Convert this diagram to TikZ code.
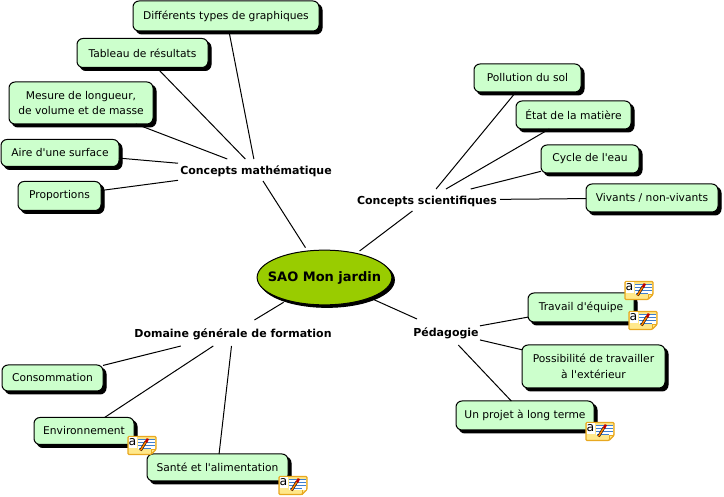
\documentclass[tikz,border=0pt]{standalone}
\usepackage{fontspec}
\setmainfont{DejaVu Sans}
\usetikzlibrary{shadows,shapes.geometric}
\definecolor{boxgreen}{HTML}{CCFFCC}
\definecolor{rootgreen}{HTML}{99CC00}
\definecolor{noteyellow}{HTML}{FFE88A}
\definecolor{noteedge}{HTML}{E8A820}
\definecolor{noteblue}{HTML}{3F7FD0}
\tikzset{
  leafbox/.style={draw=black,line width=1pt,fill=boxgreen,rounded corners=6pt,inner sep=0pt,outer sep=0pt,
    align=center,font=\fontsize{10.7}{15.5}\selectfont,
    copy shadow={fill=black,draw=black,opacity=1,shadow xshift=3pt,shadow yshift=-3pt}},
  topic/.style={font=\fontsize{11}{13}\selectfont\bfseries,inner sep=0pt,outer sep=0pt,text depth=0pt},
  rootnode/.style={ellipse,draw=black,line width=1pt,fill=rootgreen,outer sep=0pt,
    inner xsep=-9pt,inner ysep=13pt,font=\fontsize{13}{16}\selectfont\bfseries,
    copy shadow={fill=black,draw=black,opacity=1,shadow xshift=2.5pt,shadow yshift=-2.5pt}},
  conn/.style={draw=black,line width=1pt},
  notetext/.style={font=\fontsize{12.5}{12.5}\selectfont,inner sep=0pt,text=black},
  pics/noteicon/.style={code={
    \fill[noteyellow,draw=noteedge,line width=1.3pt,rounded corners=1pt] (0,0) -- (28,0) -- (28,13) -- (23,18) -- (0,18) -- cycle;
    \draw[noteedge,line width=.8pt] (28,13) -- (23,13) -- (23,18);
    \fill[white] (0.8,0.8) rectangle (8.5,12);
    \node[notetext] (-a) at (4.5,5.3) {a};
    \fill[white] (9.5,2.5) rectangle (27,13);
    \draw[noteblue,line width=1pt] (9.5,3)--(27,3) (9.5,6)--(27,6) (9.5,9)--(27,9) (11,12)--(23,12);
    \draw[black,line width=2.6pt] (12.5,14)--(18,5);
    \draw[orange,line width=1.5pt] (12.5,14)--(18,5);
    \fill[red!75!black] (16.8,5)--(19.2,6.4)--(21,2.6)--(18.8,1.6)--cycle;
  }}
}
\begin{document}
\begin{tikzpicture}[x=1pt,y=-1pt]
\fill[white] (0,0) rectangle (724,497);
\useasboundingbox (0,0) rectangle (724,497);

\node[rootnode] (root) at (324.5,277.5) {SAO Mon jardin};

\node[topic,minimum width=156pt,minimum height=22pt] (math) at (256,170) {Concepts mathématique};
\node[topic,minimum width=146pt,minimum height=22pt] (sci) at (427,200) {Concepts scientifiques};
\node[topic,minimum width=68pt,minimum height=26pt] (ped) at (446,332) {Pédagogie};
\node[topic,minimum width=200pt,minimum height=26pt] (dom) at (233,333) {Domaine générale de formation};

\node[leafbox,minimum width=186pt,minimum height=30pt] (m1) at (226,16) {Différents types de graphiques};
\node[leafbox,minimum width=131pt,minimum height=29pt] (m2) at (142.5,53) {Tableau de résultats};
\node[leafbox,minimum width=144pt,minimum height=42pt] (m3) at (81,103) {Mesure de longueur,\\de volume et de masse};
\node[leafbox,minimum width=118pt,minimum height=27pt] (m4) at (60,153) {Aire d\textquotesingle une surface};
\node[leafbox,minimum width=83pt,minimum height=29pt] (m5) at (59.5,196) {Proportions};

\node[leafbox,minimum width=107pt,minimum height=28pt] (s1) at (527.5,78) {Pollution du sol};
\node[leafbox,minimum width=115pt,minimum height=28pt] (s2) at (573.5,115) {État de la matière};
\node[leafbox,minimum width=98pt,minimum height=28pt] (s3) at (590,159) {Cycle de l\textquotesingle eau};
\node[leafbox,minimum width=132pt,minimum height=28pt] (s4) at (652,198) {Vivants / non-vivants};

\node[leafbox,minimum width=106pt,minimum height=29pt] (p1) at (581,307.5) {Travail d\textquotesingle équipe};
\node[leafbox,minimum width=143pt,minimum height=43pt] (p2) at (593.5,366.5) {Possibilité de travailler\\à l\textquotesingle extérieur};
\node[leafbox,minimum width=138pt,minimum height=29pt] (p3) at (525,415.5) {Un projet à long terme};

\node[leafbox,minimum width=101pt,minimum height=26pt] (d1) at (52.5,378) {Consommation};
\node[leafbox,minimum width=100pt,minimum height=27pt] (d2) at (84,431) {Environnement};
\node[leafbox,minimum width=141pt,minimum height=27pt] (d3) at (217.5,467.5) {Santé et l\textquotesingle alimentation};

\foreach \a in {math,sci,ped,dom}
  \draw[conn,shorten >=4pt] (\a) -- (root);
\foreach \a/\b in {m1/math,m2/math,m3/math,m4/math,m5/math,
  s1/sci,s2/sci,s3/sci,s4/sci,
  p1/ped,p2/ped,p3/ped,
  d1/dom,d2/dom,d3/dom}
  \draw[conn] (\a) -- (\b);

\pic (i1) at (625,281.5) {noteicon};
\pic (i2) at (629,311.5) {noteicon};
\pic (i3) at (586,422.5) {noteicon};
\pic (i4) at (128,436.5) {noteicon};
\pic (i5) at (279,476.5) {noteicon};
\end{tikzpicture}
\end{document}
